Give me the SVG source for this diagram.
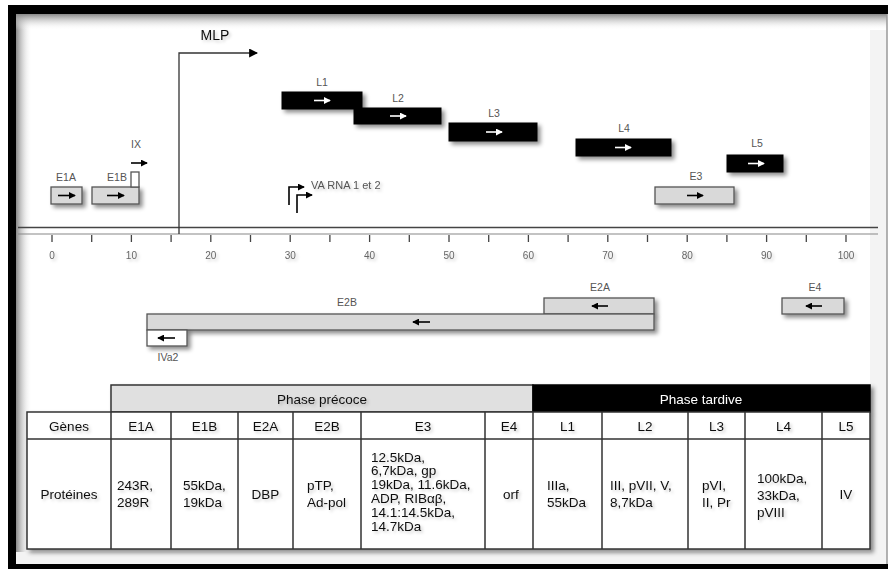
<svg xmlns="http://www.w3.org/2000/svg" width="888" height="569" viewBox="0 0 888 569">
<defs>
<style>
text{font-family:"Liberation Sans",Arial,sans-serif}
.lbl{font-size:10.5px;fill:#555}
.ax{font-size:10px;fill:#666;text-anchor:middle}
.gb{fill:#d9d9d9;stroke:#555;stroke-width:1.3}
.bb{fill:#000;stroke:#000;stroke-width:1}
.wb{fill:#fff;stroke:#555;stroke-width:1.3}
.ar{stroke:#000;stroke-width:1.6;fill:none;marker-end:url(#ah)}
.arw{stroke:#fff;stroke-width:1.6;fill:none;marker-end:url(#ahw)}
.con{stroke:#333;stroke-width:1.3;fill:none}
.tc{font-size:13.5px;fill:#111}
.cell{fill:#fff;stroke:#333;stroke-width:1.5}
.mid{text-anchor:middle}
</style>
<marker id="ah" viewBox="0 0 8 8" refX="7" refY="4" markerWidth="7" markerHeight="7" markerUnits="userSpaceOnUse" orient="auto"><path d="M0,0 L8,4 L0,8 z" fill="#000"/></marker>
<marker id="ahw" viewBox="0 0 8 8" refX="7" refY="4" markerWidth="7" markerHeight="7" markerUnits="userSpaceOnUse" orient="auto"><path d="M0,0 L8,4 L0,8 z" fill="#fff"/></marker>
<marker id="ahb" viewBox="0 0 8 8" refX="7" refY="4" markerWidth="9" markerHeight="9" markerUnits="userSpaceOnUse" orient="auto"><path d="M0,0 L8,4 L0,8 z" fill="#000"/></marker>
<filter id="sh" x="-20%" y="-50%" width="150%" height="250%"><feDropShadow dx="3" dy="3" stdDeviation="2" flood-color="#000" flood-opacity="0.45"/></filter>
<filter id="tsh" x="-20%" y="-50%" width="150%" height="250%"><feDropShadow dx="2" dy="2" stdDeviation="1.5" flood-color="#000" flood-opacity="0.2"/></filter>
<linearGradient id="gt" x1="0" y1="0" x2="0" y2="1"><stop offset="0" stop-color="#888"/><stop offset="1" stop-color="#fff" stop-opacity="0"/></linearGradient>
<linearGradient id="gl" x1="0" y1="0" x2="1" y2="0"><stop offset="0" stop-color="#888"/><stop offset="1" stop-color="#fff" stop-opacity="0"/></linearGradient>
</defs>

<rect x="0" y="0" width="888" height="569" fill="#fff"/>
<g id="frame">
<rect x="16" y="14" width="16" height="550" fill="url(#gl)"/>
<rect x="16" y="14" width="871" height="16" fill="url(#gt)"/>
<rect x="870" y="30" width="17" height="534" fill="#f3f3f3"/>
<rect x="16" y="552" width="871" height="12" fill="#f3f3f3"/>
<rect x="8" y="5" width="880" height="9" fill="#000"/>
<rect x="8" y="5" width="8" height="564" fill="#000"/>
<rect x="8" y="564" width="880" height="5" fill="#000"/>
<line x1="887" y1="14" x2="887" y2="564" stroke="#999" stroke-width="1.5"/>
</g>

<g id="axis">
<line x1="18" y1="227.5" x2="878" y2="227.5" stroke="#444" stroke-width="1.3"/>
<line x1="18" y1="234" x2="878" y2="234" stroke="#888" stroke-width="1.2"/>
<path d="M52,235V242 M91.7,235V242 M131.4,235V242 M171.1,235V242 M210.8,235V242 M250.5,235V242 M290.2,235V242 M329.9,235V242 M369.6,235V242 M409.3,235V242 M449,235V242 M488.7,235V242 M528.4,235V242 M568.1,235V242 M607.8,235V242 M647.5,235V242 M687.2,235V242 M726.9,235V242 M766.6,235V242 M806.3,235V242 M846,235V242" stroke="#444" stroke-width="1.3"/>
<g filter="url(#tsh)">
<text class="ax" x="52" y="259">0</text>
<text class="ax" x="131.4" y="259">10</text>
<text class="ax" x="210.8" y="259">20</text>
<text class="ax" x="290.2" y="259">30</text>
<text class="ax" x="369.6" y="259">40</text>
<text class="ax" x="449" y="259">50</text>
<text class="ax" x="528.4" y="259">60</text>
<text class="ax" x="607.8" y="259">70</text>
<text class="ax" x="687.2" y="259">80</text>
<text class="ax" x="766.6" y="259">90</text>
<text class="ax" x="846" y="259">100</text>
</g>
</g>

<g id="connectors">
<path class="con" d="M179,234 V53 H257" marker-end="url(#ahb)"/>
<path d="M131,163 H147" class="ar"/>
<path d="M289,205 V187 H304" class="ar" stroke-width="1.4"/>
<path d="M297,213 V195 H312" class="ar" stroke-width="1.4"/>
</g>

<g id="MLP"><text x="215" y="40" class="mid" font-size="14" fill="#111" filter="url(#tsh)">MLP</text></g>
<g id="VARNA"><text x="311" y="189" font-size="11" fill="#555" filter="url(#tsh)">VA RNA 1 et 2</text></g>

<g id="E1A">
<rect class="gb" x="51" y="187" width="31" height="17" filter="url(#sh)"/>
<path class="ar" d="M58,195.5 H75"/>
<text class="lbl mid" x="66" y="181">E1A</text>
</g>
<g id="E1B">
<rect class="gb" x="92" y="187" width="47" height="17" filter="url(#sh)"/>
<path class="ar" d="M107,195.5 H124"/>
<text class="lbl mid" x="117" y="181">E1B</text>
</g>
<g id="IX">
<rect class="wb" x="131" y="172" width="8" height="15"/>
<text class="lbl mid" x="136" y="148">IX</text>
</g>
<g id="L1">
<rect class="bb" x="282" y="92" width="80" height="17" filter="url(#sh)"/>
<path class="arw" d="M314,100.5 H330"/>
<text class="lbl mid" x="322" y="86">L1</text>
</g>
<g id="L2">
<rect class="bb" x="354" y="108" width="87" height="16" filter="url(#sh)"/>
<path class="arw" d="M390,116 H406"/>
<text class="lbl mid" x="398" y="102">L2</text>
</g>
<g id="L3">
<rect class="bb" x="449" y="123" width="88" height="18" filter="url(#sh)"/>
<path class="arw" d="M486,132 H502"/>
<text class="lbl mid" x="494" y="117">L3</text>
</g>
<g id="L4">
<rect class="bb" x="576" y="139" width="95" height="17" filter="url(#sh)"/>
<path class="arw" d="M615,147.5 H631"/>
<text class="lbl mid" x="624" y="132">L4</text>
</g>
<g id="L5">
<rect class="bb" x="727" y="155" width="56" height="17" filter="url(#sh)"/>
<path class="arw" d="M748,163.5 H764"/>
<text class="lbl mid" x="757" y="147">L5</text>
</g>
<g id="E3">
<rect class="gb" x="655" y="187" width="79" height="17" filter="url(#sh)"/>
<path class="ar" d="M687,195.5 H703"/>
<text class="lbl mid" x="696" y="180">E3</text>
</g>

<g id="E2A">
<rect class="gb" x="544" y="298" width="110" height="16" filter="url(#sh)"/>
<path class="ar" d="M608,306 H592"/>
<text class="lbl mid" x="600" y="291">E2A</text>
</g>
<g id="E2B">
<rect class="gb" x="147" y="314" width="507" height="16" filter="url(#sh)"/>
<path class="ar" d="M430,322 H413"/>
<text class="lbl mid" x="347" y="306">E2B</text>
</g>
<g id="IVa2">
<rect class="wb" x="147" y="330" width="40" height="16" filter="url(#sh)"/>
<path class="ar" d="M175,338 H158"/>
<text class="lbl mid" x="168" y="361">IVa2</text>
</g>
<g id="E4">
<rect class="gb" x="782" y="298" width="62" height="16" filter="url(#sh)"/>
<path class="ar" d="M822,306 H806"/>
<text class="lbl mid" x="815" y="291">E4</text>
</g>

<g id="table">
<g filter="url(#sh)">
<rect x="111" y="385" width="422" height="27" fill="#e0e0e0" stroke="#333" stroke-width="1.5"/>
<rect x="533" y="385" width="337" height="27" fill="#000" stroke="#000" stroke-width="1.5"/>
<rect class="cell" x="27" y="412" width="843" height="137"/>
</g>
<path d="M27,439 H870 M111,412 V549 M171,412 V549 M238,412 V549 M293,412 V549 M361,412 V549 M485,412 V549 M533,412 V549 M602,412 V549 M688,412 V549 M745,412 V549 M822,412 V549" stroke="#333" stroke-width="1.5" fill="none"/>
<g filter="url(#tsh)">
<text class="tc mid" x="322" y="403.5">Phase précoce</text>
<text class="mid" x="701" y="403.5" font-size="13.5" fill="#fff">Phase tardive</text>
<text class="tc mid" x="69" y="430.5">Gènes</text>
<text class="tc mid" x="141" y="430.5">E1A</text>
<text class="tc mid" x="204.5" y="430.5">E1B</text>
<text class="tc mid" x="265.5" y="430.5">E2A</text>
<text class="tc mid" x="327" y="430.5">E2B</text>
<text class="tc mid" x="423" y="430.5">E3</text>
<text class="tc mid" x="509" y="430.5">E4</text>
<text class="tc mid" x="567.5" y="430.5">L1</text>
<text class="tc mid" x="645" y="430.5">L2</text>
<text class="tc mid" x="716.5" y="430.5">L3</text>
<text class="tc mid" x="783.5" y="430.5">L4</text>
<text class="tc mid" x="846" y="430.5">L5</text>

<text class="tc mid" x="69" y="498.5">Protéines</text>
<text class="tc" x="117" y="489.5">243R,</text>
<text class="tc" x="117" y="506.5">289R</text>
<text class="tc" x="183" y="489.5">55kDa,</text>
<text class="tc" x="183" y="506.5">19kDa</text>
<text class="tc mid" x="265.5" y="498.5">DBP</text>
<text class="tc" x="307" y="489.5">pTP,</text>
<text class="tc" x="307" y="506.5">Ad-pol</text>
<text class="tc" x="371" y="461.5">12.5kDa,</text>
<text class="tc" x="371" y="475">6,7kDa, gp</text>
<text class="tc" x="371" y="488.5">19kDa, 11.6kDa,</text>
<text class="tc" x="371" y="502.5">ADP, RIBαβ,</text>
<text class="tc" x="371" y="516.5">14.1:14.5kDa,</text>
<text class="tc" x="371" y="531">14.7kDa</text>
<text class="tc mid" x="511" y="498.5">orf</text>
<text class="tc" x="547" y="489.5">IIIa,</text>
<text class="tc" x="547" y="506.5">55kDa</text>
<text class="tc" x="610" y="489.5">III, pVII, V,</text>
<text class="tc" x="610" y="506.5">8,7kDa</text>
<text class="tc" x="702" y="489.5">pVI,</text>
<text class="tc" x="702" y="506.5">II, Pr</text>
<text class="tc" x="757" y="482.5">100kDa,</text>
<text class="tc" x="757" y="499.5">33kDa,</text>
<text class="tc" x="757" y="516.5">pVIII</text>
<text class="tc mid" x="846" y="498.5">IV</text>
</g>
</g>
</svg>
